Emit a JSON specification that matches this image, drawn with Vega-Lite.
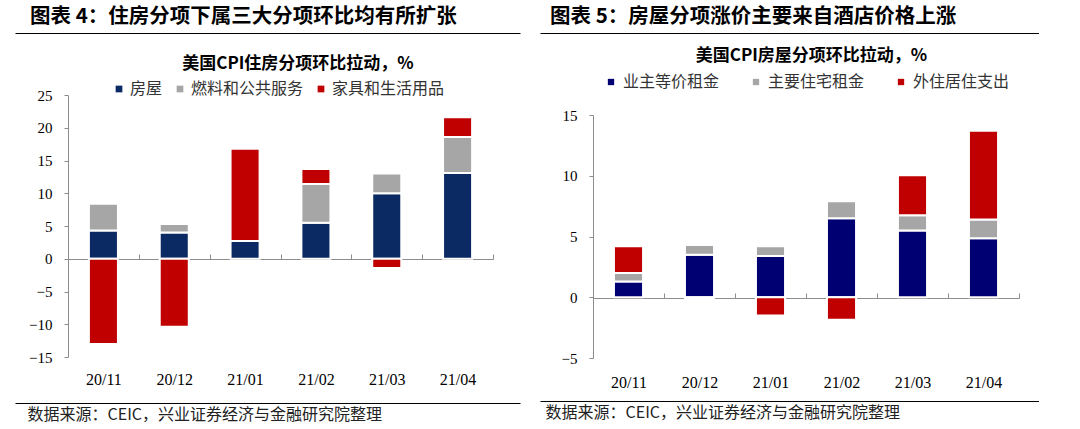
{
  "$schema": "https://vega.github.io/schema/vega-lite/v6.json",
  "background": "white",
  "padding": {"left": 15, "top": 6, "right": 0, "bottom": 0},
  "config": {"view": {"stroke": null}, "font": "Noto Sans CJK SC"},
  "resolve": {"scale": {"color": "independent", "x": "independent", "y": "independent"}, "legend": {"color": "independent"}},
  "datasets": {
    "left": [
      {"month": "20/11", "series": "房屋", "ord": 1, "value": 4.3},
      {"month": "20/11", "series": "燃料和公共服务", "ord": 2, "value": 4.1},
      {"month": "20/11", "series": "家具和生活用品", "ord": 3, "value": -13.0},
      {"month": "20/12", "series": "房屋", "ord": 1, "value": 4.0},
      {"month": "20/12", "series": "燃料和公共服务", "ord": 2, "value": 1.3},
      {"month": "20/12", "series": "家具和生活用品", "ord": 3, "value": -10.4},
      {"month": "21/01", "series": "房屋", "ord": 1, "value": 2.7},
      {"month": "21/01", "series": "燃料和公共服务", "ord": 2, "value": 0.0},
      {"month": "21/01", "series": "家具和生活用品", "ord": 3, "value": 14.1},
      {"month": "21/02", "series": "房屋", "ord": 1, "value": 5.5},
      {"month": "21/02", "series": "燃料和公共服务", "ord": 2, "value": 5.9},
      {"month": "21/02", "series": "家具和生活用品", "ord": 3, "value": 2.3},
      {"month": "21/03", "series": "房屋", "ord": 1, "value": 10.0},
      {"month": "21/03", "series": "燃料和公共服务", "ord": 2, "value": 3.0},
      {"month": "21/03", "series": "家具和生活用品", "ord": 3, "value": -1.4},
      {"month": "21/04", "series": "房屋", "ord": 1, "value": 13.1},
      {"month": "21/04", "series": "燃料和公共服务", "ord": 2, "value": 5.5},
      {"month": "21/04", "series": "家具和生活用品", "ord": 3, "value": 3.0}
    ],
    "right": [
      {"month": "20/11", "series": "业主等价租金", "ord": 1, "value": 1.3},
      {"month": "20/11", "series": "主要住宅租金", "ord": 2, "value": 0.7},
      {"month": "20/11", "series": "外住居住支出", "ord": 3, "value": 2.2},
      {"month": "20/12", "series": "业主等价租金", "ord": 1, "value": 3.5},
      {"month": "20/12", "series": "主要住宅租金", "ord": 2, "value": 0.8},
      {"month": "20/12", "series": "外住居住支出", "ord": 3, "value": -0.15},
      {"month": "21/01", "series": "业主等价租金", "ord": 1, "value": 3.4},
      {"month": "21/01", "series": "主要住宅租金", "ord": 2, "value": 0.8},
      {"month": "21/01", "series": "外住居住支出", "ord": 3, "value": -1.5},
      {"month": "21/02", "series": "业主等价租金", "ord": 1, "value": 6.5},
      {"month": "21/02", "series": "主要住宅租金", "ord": 2, "value": 1.4},
      {"month": "21/02", "series": "外住居住支出", "ord": 3, "value": -1.85},
      {"month": "21/03", "series": "业主等价租金", "ord": 1, "value": 5.5},
      {"month": "21/03", "series": "主要住宅租金", "ord": 2, "value": 1.25},
      {"month": "21/03", "series": "外住居住支出", "ord": 3, "value": 3.3},
      {"month": "21/04", "series": "业主等价租金", "ord": 1, "value": 4.85},
      {"month": "21/04", "series": "主要住宅租金", "ord": 2, "value": 1.55},
      {"month": "21/04", "series": "外住居住支出", "ord": 3, "value": 7.3}
    ]
  },
  "spacing": 20,
  "hconcat": [
    {
      "columns": 1,
      "align": "none",
      "spacing": 0,
      "resolve": {"scale": {"color": "independent", "x": "independent", "y": "independent"}, "legend": {"color": "independent"}},
      "concat": [
        {
          "width": 505, "height": 22,
          "title": {"text": "图表 4：住房分项下属三大分项环比均有所扩张", "anchor": "start", "fontSize": 20.5, "fontWeight": "bold", "color": "#000000", "dx": 15, "offset": 6},
          "data": {"values": []},
          "mark": {"type": "point", "opacity": 0},
          "encoding": {"x": {"field": "a", "type": "quantitative", "scale": {"domain": [0, 1]}, "axis": {"orient": "top", "domain": true, "domainColor": "#000000", "domainWidth": 1, "ticks": false, "labels": false, "grid": false, "title": null}}}
        },
        {
          "width": 478, "height": 262,
          "title": {"text": "美国CPI住房分项环比拉动，%", "fontSize": 17, "fontWeight": "bold", "color": "#000000", "offset": 8, "dx": 44},
          "data": {"name": "left"},
          "mark": {"type": "bar", "width": {"band": 0.41}, "stroke": "white", "strokeWidth": 2},
          "encoding": {
            "x": {"field": "month", "type": "nominal", "sort": null, "scale": {"paddingInner": 0, "paddingOuter": 0, "range": [53, 478]},
              "axis": {"orient": "bottom", "offset": -98, "domain": true, "domainColor": "#8c8c8c", "ticks": true, "tickBand": "extent", "tickSize": -5, "tickColor": "#8c8c8c", "labelPadding": 117, "labelFont": "Liberation Serif", "labelFontSize": 16, "labelColor": "#000000", "labelAngle": 0, "grid": false, "title": null}},
            "y": {"field": "value", "type": "quantitative", "stack": "zero", "scale": {"domain": [-15, 25], "nice": false},
              "axis": {"values": [-15, -10, -5, 0, 5, 10, 15, 20, 25], "offset": -53, "domainColor": "#8c8c8c", "tickColor": "#8c8c8c", "tickSize": 4, "labelPadding": 12, "labelFont": "Liberation Serif", "labelFontSize": 15, "labelColor": "#000000", "grid": false, "title": null}},
            "color": {"field": "series", "type": "nominal", "scale": {"domain": ["房屋", "燃料和公共服务", "家具和生活用品"], "range": ["#0B2A63", "#A6A6A6", "#C00000"]},
              "legend": {"orient": "none", "legendX": 96, "legendY": -14, "direction": "horizontal", "title": null, "symbolType": "square", "symbolSize": 45, "symbolStrokeWidth": 0, "labelFontSize": 16, "labelColor": "#333333", "labelOffset": 3, "columnPadding": 9, "padding": 0}},
            "order": {"field": "ord", "type": "quantitative"}
          }
        },
        {
          "width": 505, "height": 16,
          "data": {"values": []},
          "mark": {"type": "point", "opacity": 0},
          "encoding": {"x": {"field": "a", "type": "quantitative", "scale": {"domain": [0, 1]}, "axis": {"orient": "bottom", "domain": true, "domainColor": "#000000", "domainWidth": 1, "ticks": false, "labels": false, "grid": false, "title": "数据来源：CEIC，兴业证券经济与金融研究院整理", "titleAnchor": "start", "titleAlign": "left", "titleX": 12, "titleFontSize": 16, "titleFontWeight": "normal", "titleColor": "#222222", "titlePadding": 3}}}
        }
      ]
    },
    {
      "columns": 1,
      "align": "none",
      "spacing": 0,
      "resolve": {"scale": {"color": "independent", "x": "independent", "y": "independent"}, "legend": {"color": "independent"}},
      "concat": [
        {
          "width": 499, "height": 14,
          "title": {"text": "图表 5：房屋分项涨价主要来自酒店价格上涨", "anchor": "start", "fontSize": 20.5, "fontWeight": "bold", "color": "#000000", "dx": 10, "offset": 6},
          "data": {"values": []},
          "mark": {"type": "point", "opacity": 0},
          "encoding": {"x": {"field": "a", "type": "quantitative", "scale": {"domain": [0, 1]}, "axis": {"orient": "top", "domain": true, "domainColor": "#000000", "domainWidth": 1, "ticks": false, "labels": false, "grid": false, "title": null}}}
        },
        {
          "width": 479, "height": 243,
          "title": {"text": "美国CPI房屋分项环比拉动，%", "fontSize": 17, "fontWeight": "bold", "color": "#000000", "offset": 9, "dx": 32},
          "data": {"name": "right"},
          "mark": {"type": "bar", "width": {"band": 0.41}, "stroke": "white", "strokeWidth": 2},
          "encoding": {
            "x": {"field": "month", "type": "nominal", "sort": null, "scale": {"paddingInner": 0, "paddingOuter": 0, "range": [53, 479]},
              "axis": {"orient": "bottom", "offset": -60, "domain": true, "domainColor": "#8c8c8c", "ticks": true, "tickBand": "extent", "tickSize": -5, "tickColor": "#8c8c8c", "labelPadding": 81, "labelFont": "Liberation Serif", "labelFontSize": 16, "labelColor": "#000000", "labelAngle": 0, "grid": false, "title": null}},
            "y": {"field": "value", "type": "quantitative", "stack": "zero", "scale": {"domain": [-5, 15], "nice": false},
              "axis": {"values": [-5, 0, 5, 10, 15], "offset": -53, "domainColor": "#8c8c8c", "tickColor": "#8c8c8c", "tickSize": 4, "labelPadding": 12, "labelFont": "Liberation Serif", "labelFontSize": 15, "labelColor": "#000000", "grid": false, "title": null}},
            "color": {"field": "series", "type": "nominal", "scale": {"domain": ["业主等价租金", "主要住宅租金", "外住居住支出"], "range": ["#000073", "#A6A6A6", "#C00000"]},
              "legend": {"orient": "none", "legendX": 63, "legendY": -41, "direction": "horizontal", "title": null, "symbolType": "square", "symbolSize": 40, "symbolStrokeWidth": 0, "labelFontSize": 16, "labelColor": "#333333", "labelOffset": 4, "columnPadding": 28, "padding": 0}},
            "order": {"field": "ord", "type": "quantitative"}
          }
        },
        {
          "width": 499, "height": 11,
          "data": {"values": []},
          "mark": {"type": "point", "opacity": 0},
          "encoding": {"x": {"field": "a", "type": "quantitative", "scale": {"domain": [0, 1]}, "axis": {"orient": "bottom", "domain": true, "domainColor": "#000000", "domainWidth": 1, "ticks": false, "labels": false, "grid": false, "title": "数据来源：CEIC，兴业证券经济与金融研究院整理", "titleAnchor": "start", "titleAlign": "left", "titleX": 5, "titleFontSize": 16, "titleFontWeight": "normal", "titleColor": "#222222", "titlePadding": 3}}}
        }
      ]
    }
  ]
}
